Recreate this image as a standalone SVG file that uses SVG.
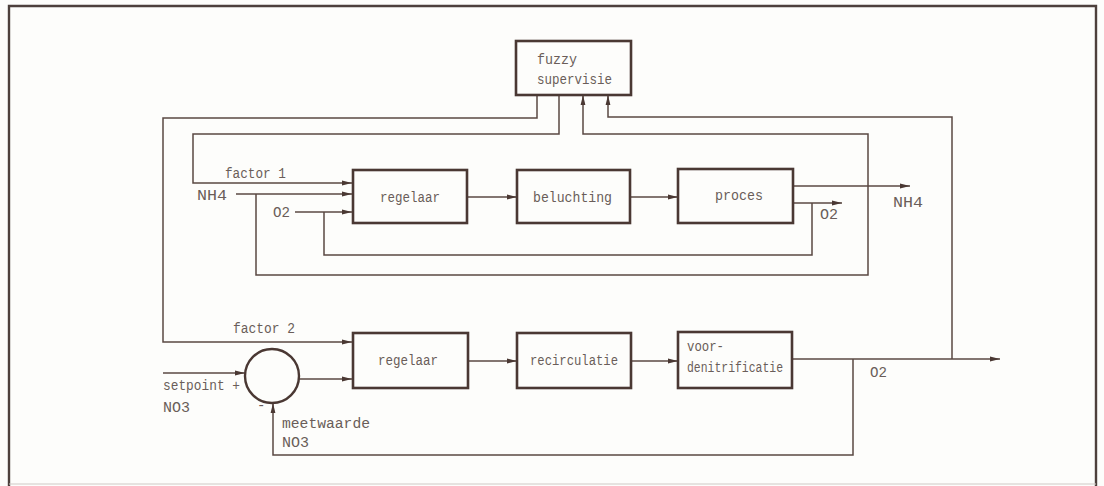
<svg xmlns="http://www.w3.org/2000/svg" width="1104" height="486" viewBox="0 0 1104 486">
  <style>
    .box { fill: none; stroke: #4a3833; stroke-width: 2.6; }
    .wire { fill: none; stroke: #5a4843; stroke-width: 1.5; }
    .arrow { marker-end: url(#head); }
    text { font-family: "Liberation Mono", "DejaVu Sans Mono", monospace; font-size: 14px; fill: #6a5d59; }
  </style>
  <defs>
    <marker id="head" viewBox="0 0 10 6" refX="10" refY="3" markerWidth="10" markerHeight="6" markerUnits="userSpaceOnUse" orient="auto">
      <path d="M0,0.6 L10,3 L0,5.4 Z" fill="#4a3833"/>
    </marker>
  </defs>

  <rect x="0" y="0" width="1104" height="486" fill="#fdfdfb"/>
  <!-- frame -->
  <path d="M9,486 V6 H1096 V486" fill="none" stroke="#4d403c" stroke-width="2.4"/>
  <path d="M9,484 H1096" fill="none" stroke="#cfcac6" stroke-width="1.2"/>

  <g id="connectors">
    <!-- fuzzy supervisie: factor 1 and factor 2 outputs -->
    <path class="wire arrow" d="M537,95 V118 H163 V342 H352"/>
    <path class="wire arrow" d="M559,95 V134 H193 V183 H352"/>
    <!-- NH4 measurement back to fuzzy supervisie -->
    <path class="wire arrow" d="M256,194 V275 H868 V134 H583 V95"/>
    <!-- O2 of the lower loop back to fuzzy supervisie -->
    <path class="wire arrow" d="M952,359 V117 H608 V95"/>
    <!-- upper loop inputs -->
    <path class="wire arrow" d="M236,194 H352"/>
    <path class="wire arrow" d="M295,212 H352"/>
    <path class="wire arrow" d="M467,197 H517"/>
    <path class="wire arrow" d="M630,197 H678"/>
    <!-- proces outputs -->
    <path class="wire arrow" d="M793,186 H910"/>
    <path class="wire arrow" d="M793,203 H842"/>
    <path class="wire" d="M812,203 V255 H324 V212"/>
    <!-- lower loop -->
    <path class="wire arrow" d="M163,373 H245"/>
    <path class="wire arrow" d="M299,379 H352"/>
    <path class="wire arrow" d="M468,361 H517"/>
    <path class="wire arrow" d="M631,361 H678"/>
    <path class="wire arrow" d="M792,359 H1000"/>
    <path class="wire arrow" d="M853,359 V455 H273 V403"/>
  </g>

  <g id="fuzzy">
    <rect class="box" x="516" y="41" width="115" height="54"/>
    <text x="537" y="64" textLength="40" lengthAdjust="spacingAndGlyphs">fuzzy</text>
    <text x="537" y="84" textLength="75" lengthAdjust="spacingAndGlyphs">supervisie</text>
  </g>

  <g id="regelaar1">
    <rect class="box" x="353" y="170" width="114" height="53"/>
    <text x="380" y="202" textLength="60" lengthAdjust="spacingAndGlyphs">regelaar</text>
  </g>
  <g id="beluchting">
    <rect class="box" x="517" y="170" width="113" height="53"/>
    <text x="533" y="202" textLength="79" lengthAdjust="spacingAndGlyphs">beluchting</text>
  </g>
  <g id="proces">
    <rect class="box" x="678" y="169" width="115" height="54"/>
    <text x="715" y="200" textLength="48" lengthAdjust="spacingAndGlyphs">proces</text>
  </g>

  <g id="regelaar2">
    <rect class="box" x="353" y="333" width="115" height="55"/>
    <text x="378" y="365" textLength="60" lengthAdjust="spacingAndGlyphs">regelaar</text>
  </g>
  <g id="recirculatie">
    <rect class="box" x="517" y="333" width="114" height="55"/>
    <text x="530" y="365" textLength="88" lengthAdjust="spacingAndGlyphs">recirculatie</text>
  </g>
  <g id="voordenitrificatie">
    <rect class="box" x="678" y="332" width="114" height="56"/>
    <text x="687" y="351" textLength="37" lengthAdjust="spacingAndGlyphs">voor-</text>
    <text x="687" y="372" textLength="96" lengthAdjust="spacingAndGlyphs">denitrificatie</text>
  </g>

  <g id="sommator">
    <circle cx="272" cy="376" r="27" fill="none" stroke="#4a3833" stroke-width="2.4"/>
  </g>

  <g id="labels">
    <text x="225" y="178" textLength="61" lengthAdjust="spacingAndGlyphs">factor 1</text>
    <text x="197" y="200" textLength="30" lengthAdjust="spacingAndGlyphs">NH4</text>
    <text x="273" y="217" textLength="17" lengthAdjust="spacingAndGlyphs">O2</text>
    <text x="820" y="219" textLength="18" lengthAdjust="spacingAndGlyphs">O2</text>
    <text x="893" y="207" textLength="30" lengthAdjust="spacingAndGlyphs">NH4</text>
    <text x="233" y="333" textLength="62" lengthAdjust="spacingAndGlyphs">factor 2</text>
    <text x="163" y="390" textLength="77" lengthAdjust="spacingAndGlyphs">setpoint +</text>
    <text x="163" y="412" textLength="27" lengthAdjust="spacingAndGlyphs">NO3</text>
    <text x="257" y="410">-</text>
    <text x="282" y="428" textLength="88" lengthAdjust="spacingAndGlyphs">meetwaarde</text>
    <text x="282" y="447" textLength="27" lengthAdjust="spacingAndGlyphs">NO3</text>
    <text x="870" y="377" textLength="17" lengthAdjust="spacingAndGlyphs">O2</text>
  </g>
</svg>
